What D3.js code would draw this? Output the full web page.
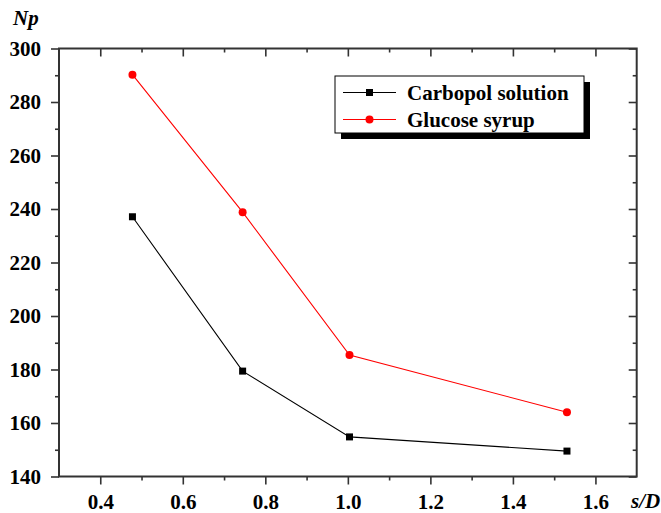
<!DOCTYPE html>
<html>
<head>
<meta charset="utf-8">
<script src="https://cdn.jsdelivr.net/npm/d3@7"></script>
<style>
body { margin: 0; background: #fff; }
svg { display: block; }
.tk text { font-family: "Liberation Serif", "Times New Roman", serif; font-weight: bold; font-size: 21px; fill: #000; }
</style>
</head>
<body>
<svg id="chart" width="661" height="513"></svg>
<script>
// s/D values and power number Np
var sD = [0.478, 0.745, 1.004, 1.531];
var carbopol = [237.1, 179.4, 154.8, 149.5];
var glucose = [290.2, 238.8, 185.4, 164.0];
var seriesNames = ["Carbopol solution", "Glucose syrup"];
var xMajor = [0.4, 0.6, 0.8, 1.0, 1.2, 1.4, 1.6];
var xMinor = [0.5, 0.7, 0.9, 1.1, 1.3, 1.5];
var yMajor = [140, 160, 180, 200, 220, 240, 260, 280, 300];
var yMinor = [150, 170, 190, 210, 230, 250, 270, 290];

var svg = d3.select("#chart");
var pLeft = 59, pRight = 636.7, pTop = 48.5, pBottom = 476.5;

var x = d3.scaleLinear().domain([0.3, 1.7]).range([pLeft, pRight]);
var y = d3.scaleLinear().domain([140, 300]).range([pBottom, pTop]);
var fmt = d3.format(".1f");
var axisColor = "#333";

function styleAxis(g) {
    g.select(".domain").remove();
    g.selectAll("line").attr("stroke", axisColor).attr("stroke-width", 1.6);
}

// bottom axis, ticks outward
svg.append("g").attr("class", "tk")
    .attr("transform", "translate(0," + pBottom + ")")
    .call(d3.axisBottom(x).tickValues(xMajor).tickSize(8).tickPadding(10).tickFormat(fmt))
    .call(styleAxis);
svg.append("g").attr("transform", "translate(0," + pBottom + ")")
    .call(d3.axisBottom(x).tickValues(xMinor).tickSize(4).tickFormat(""))
    .call(styleAxis);

// top axis, ticks inward
svg.append("g").attr("transform", "translate(0," + pTop + ")")
    .call(d3.axisTop(x).tickValues(xMajor).tickSize(-8).tickFormat(""))
    .call(styleAxis);
svg.append("g").attr("transform", "translate(0," + pTop + ")")
    .call(d3.axisTop(x).tickValues(xMinor).tickSize(-4).tickFormat(""))
    .call(styleAxis);

// left axis, ticks outward
svg.append("g").attr("class", "tk")
    .attr("transform", "translate(" + pLeft + ",0)")
    .call(d3.axisLeft(y).tickValues(yMajor).tickSize(8).tickPadding(10))
    .call(styleAxis);
svg.append("g").attr("transform", "translate(" + pLeft + ",0)")
    .call(d3.axisLeft(y).tickValues(yMinor).tickSize(4).tickFormat(""))
    .call(styleAxis);

// right axis, ticks inward
svg.append("g").attr("transform", "translate(" + pRight + ",0)")
    .call(d3.axisRight(y).tickValues(yMajor).tickSize(-8).tickFormat(""))
    .call(styleAxis);
svg.append("g").attr("transform", "translate(" + pRight + ",0)")
    .call(d3.axisRight(y).tickValues(yMinor).tickSize(-4).tickFormat(""))
    .call(styleAxis);

// frame
svg.append("rect")
    .attr("x", pLeft).attr("y", pTop)
    .attr("width", pRight - pLeft).attr("height", pBottom - pTop)
    .attr("fill", "none").attr("stroke", axisColor).attr("stroke-width", 2);

// axis titles
svg.append("text").attr("x", 13).attr("y", 25)
    .style("font-family", "Liberation Serif, serif").style("font-weight", "bold")
    .style("font-style", "italic").style("font-size", "21px").text("Np");
svg.append("text").attr("x", 631).attr("y", 508)
    .style("font-family", "Liberation Serif, serif").style("font-weight", "bold")
    .style("font-style", "italic").style("font-size", "21px").text("s/D");

var line = d3.line().x(function(d) { return x(d[0]); }).y(function(d) { return y(d[1]); });

function drawSeries(vals, color, marker) {
    var pts = sD.map(function(s, i) { return [s, vals[i]]; });
    svg.append("path").datum(pts)
        .attr("d", line).attr("fill", "none")
        .attr("stroke", color).attr("stroke-width", 1.1);
    var g = svg.append("g");
    if (marker == "square") {
        g.selectAll("rect").data(pts).enter().append("rect")
            .attr("x", function(d) { return x(d[0]) - 3.5; })
            .attr("y", function(d) { return y(d[1]) - 3.5; })
            .attr("width", 7).attr("height", 7).attr("fill", color);
    } else {
        g.selectAll("circle").data(pts).enter().append("circle")
            .attr("cx", function(d) { return x(d[0]); })
            .attr("cy", function(d) { return y(d[1]); })
            .attr("r", 4).attr("fill", color);
    }
}

drawSeries(carbopol, "#000", "square");
drawSeries(glucose, "#ff0000", "circle");

// legend with shadow
var lx = 335, ly = 76, lw = 249, lh = 57;
svg.append("rect").attr("x", lx + 6).attr("y", ly + 6).attr("width", lw).attr("height", lh).attr("fill", "#000");
svg.append("rect").attr("x", lx).attr("y", ly).attr("width", lw).attr("height", lh)
    .attr("fill", "#fff").attr("stroke", "#000").attr("stroke-width", 1);

var legColors = ["#000", "#ff0000"];
seriesNames.forEach(function(name, i) {
    var yy = ly + 16.5 + i * 27;
    svg.append("line").attr("x1", lx + 8).attr("x2", lx + 61)
        .attr("y1", yy).attr("y2", yy).attr("stroke", legColors[i]).attr("stroke-width", 1.1);
    if (i == 0) {
        svg.append("rect").attr("x", lx + 34.5 - 3.5).attr("y", yy - 3.5)
            .attr("width", 7).attr("height", 7).attr("fill", legColors[i]);
    } else {
        svg.append("circle").attr("cx", lx + 34.5).attr("cy", yy).attr("r", 4).attr("fill", legColors[i]);
    }
    svg.append("text").attr("x", lx + 72).attr("y", yy + 7)
        .style("font-family", "Liberation Serif, serif").style("font-weight", "bold")
        .style("font-size", "21px").text(name);
});
</script>
</body>
</html>
